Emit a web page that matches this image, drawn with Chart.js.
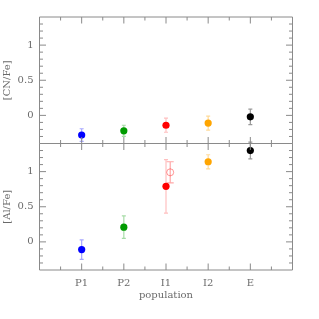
<!DOCTYPE html>
<html>
<head>
<meta charset="utf-8">
<script src="https://cdn.jsdelivr.net/npm/chart.js@4"></script>
<style>
  html, body { margin: 0; padding: 0; background: #fff; }
  #wrap { width: 319px; height: 319px; }
</style>
</head>
<body>
<div id="wrap"><canvas id="c"></canvas></div>
<script>
const categories = ['P1', 'P2', 'I1', 'I2', 'E'];
const catPos = [1, 2, 3, 4, 5];

const cnFe = [-0.28, -0.22, -0.14, -0.11, -0.02];
const cnErr = [0.09, 0.08, 0.10, 0.10, 0.11];

const alFe = [-0.11, 0.21, 0.79, 1.14, 1.30];
const alErr = [0.14, 0.16, 0.38, 0.10, 0.12];

// open symbol next to I1
const alOpenX = [3.1];
const alOpen = [0.99];
const alOpenErr = [0.15];

const yTicks = [0, 0.5, 1];

const popColors = ['#0000ff', '#009b00', '#ff0000', '#ffa500', '#000000'];
const errColors = ['rgba(0,0,255,0.35)', 'rgba(0,155,0,0.35)', 'rgba(255,0,0,0.25)',
  'rgba(255,165,0,0.4)', 'rgba(0,0,0,0.4)'];

const axisColor = '#8a8a8a';
const textColor = '#6a6a6a';
const font = { family: 'DejaVu Serif', size: 10 };

function pts(xs, ys) {
  return xs.map((x, i) => ({ x: x, y: ys[i] }));
}

// frame + inward ticks on every side of both panels, and error bars
const framePlugin = {
  id: 'frame',
  beforeDatasetsDraw(chart) {
    const ctx = chart.ctx;
    const xs = chart.scales.x;
    ctx.save();
    chart.data.datasets.forEach((ds) => {
      if (!ds.err) return;
      const ys = chart.scales[ds.yAxisID];
      ds.data.forEach((p, i) => {
        const px = xs.getPixelForValue(p.x);
        const y1 = ys.getPixelForValue(p.y + ds.err[i]);
        const y2 = ys.getPixelForValue(p.y - ds.err[i]);
        const cap = ds.cap || 2;
        ctx.strokeStyle = ds.errColor[i];
        ctx.lineWidth = 1.2;
        ctx.beginPath();
        ctx.moveTo(px, y1); ctx.lineTo(px, y2);
        ctx.moveTo(px - cap, y1); ctx.lineTo(px + cap, y1);
        ctx.moveTo(px - cap, y2); ctx.lineTo(px + cap, y2);
        ctx.stroke();
      });
    });
    ctx.restore();
  },
  afterDraw(chart) {
    const ctx = chart.ctx;
    const area = chart.chartArea;
    const xs = chart.scales.x;
    ctx.save();
    ctx.strokeStyle = axisColor;
    ctx.lineWidth = 1;
    ['yTop', 'yBot'].forEach((id) => {
      const ys = chart.scales[id];
      const top = ys.top, bot = ys.bottom;
      ctx.beginPath();
      ctx.rect(area.left, top, area.right - area.left, bot - top);
      for (let k = 1; k < (xs.max - xs.min) * 2; k++) {
        const v = xs.min + k * 0.5;
        const px = xs.getPixelForValue(v);
        const len = k % 2 === 0 ? 6.5 : 3.5;
        ctx.moveTo(px, top); ctx.lineTo(px, top + len);
        ctx.moveTo(px, bot); ctx.lineTo(px, bot - len);
      }
      const n = Math.round((ys.max - ys.min) * 10);
      for (let k = 1; k < n; k++) {
        const v = Math.round((ys.min + k * 0.1) * 10) / 10;
        const py = ys.getPixelForValue(v);
        const len = Math.abs(v * 2 - Math.round(v * 2)) < 1e-6 ? 6.5 : 3.5;
        ctx.moveTo(area.left, py); ctx.lineTo(area.left + len, py);
        ctx.moveTo(area.right, py); ctx.lineTo(area.right - len, py);
      }
      ctx.stroke();
    });
    ctx.restore();
  }
};

function yScale(title) {
  return {
    type: 'linear',
    position: 'left',
    stack: 'panels',
    stackWeight: 1,
    min: -0.4,
    max: 1.4,
    grid: { display: false, drawTicks: false },
    border: { display: false },
    afterBuildTicks(s) { s.ticks = yTicks.map((v) => ({ value: v })); },
    afterFit(s) { s.width = 39.5; },
    ticks: {
      padding: 6,
      color: textColor,
      font: font,
      callback: (v) => String(v)
    },
    title: {
      display: true,
      text: title,
      color: textColor,
      font: font,
      padding: { top: 1, bottom: 0 }
    }
  };
}

new Chart(document.getElementById('c'), {
  type: 'scatter',
  data: {
    datasets: [
      {
        label: '[CN/Fe]',
        yAxisID: 'yTop',
        data: pts(catPos, cnFe),
        err: cnErr,
        errColor: errColors,
        pointBackgroundColor: popColors,
        pointBorderWidth: 0,
        pointRadius: 3.6
      },
      {
        label: '[Al/Fe]',
        yAxisID: 'yBot',
        data: pts(catPos, alFe),
        err: alErr,
        errColor: errColors,
        pointBackgroundColor: popColors,
        pointBorderWidth: 0,
        pointRadius: 3.6
      },
      {
        label: '[Al/Fe] open',
        yAxisID: 'yBot',
        data: pts(alOpenX, alOpen),
        err: alOpenErr,
        errColor: ['rgba(255,0,0,0.35)'],
        cap: 3.5,
        pointBackgroundColor: 'rgba(0,0,0,0)',
        pointBorderColor: 'rgba(255,0,0,0.4)',
        pointBorderWidth: 1,
        pointRadius: 3.5
      }
    ]
  },
  options: {
    responsive: true,
    maintainAspectRatio: false,
    animation: false,
    layout: { padding: { top: 17, right: 26.5, left: 0, bottom: 0 } },
    plugins: {
      legend: { display: false },
      tooltip: { enabled: false }
    },
    scales: {
      x: {
        type: 'linear',
        min: 0,
        max: 6,
        grid: { display: false, drawTicks: false },
        border: { display: false },
        afterBuildTicks(s) { s.ticks = catPos.map((v) => ({ value: v })); },
        afterFit(s) { s.height = 49; },
        ticks: {
          padding: 7,
          color: textColor,
          font: font,
          callback: (v) => categories[catPos.indexOf(v)]
        },
        title: {
          display: true,
          text: 'population',
          color: textColor,
          font: font,
          padding: { top: 0, bottom: 18 }
        }
      },
      yBot: yScale('[Al/Fe]'),
      yTop: yScale('[CN/Fe]')
    }
  },
  plugins: [framePlugin]
});
</script>
</body>
</html>
